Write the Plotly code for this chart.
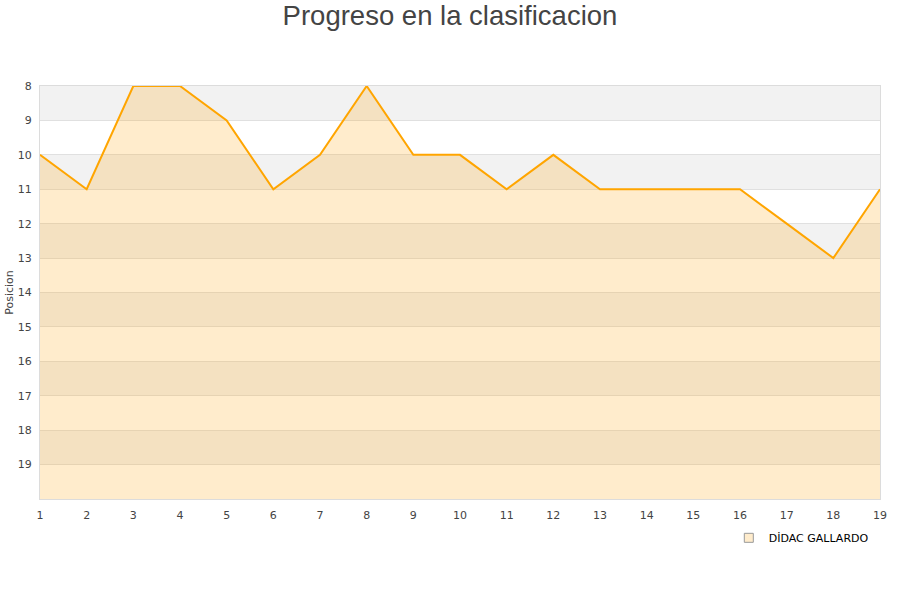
import plotly.graph_objects as go

jornadas = list(range(1, 20))
posiciones = [10, 11, 8, 8, 9, 11, 10, 8, 10, 10, 11, 10, 11, 11, 11, 11, 12, 13, 11]
y_ticks = list(range(8, 20))
y_min, y_max = 8, 20
jugador = "DİDAC GALLARDO"

fig = go.Figure()

# baseline for the fill (bottom of the axis)
fig.add_trace(go.Scatter(x=jornadas, y=[y_max] * len(jornadas), mode="lines",
                         line=dict(width=0), hoverinfo="skip", showlegend=False))
fig.add_trace(go.Scatter(x=jornadas, y=posiciones, mode="lines", fill="tonexty",
                         fillcolor="rgba(255,160,0,0.2)",
                         line=dict(color="#ffa500", width=2), showlegend=False))
# legend entry
fig.add_trace(go.Scatter(x=[None], y=[None], mode="markers", name=jugador,
                         marker=dict(symbol="square", size=9, color="rgba(255,160,0,0.2)",
                                     line=dict(color="#999", width=1))))

shapes = []
for v in range(y_min, y_max, 2):
    shapes.append(dict(type="rect", xref="paper", yref="y", x0=0, x1=1, y0=v, y1=v + 1,
                       fillcolor="#f2f2f2", line=dict(width=0), layer="below"))

fig.update_layout(
    width=900, height=600,
    paper_bgcolor="white", plot_bgcolor="white",
    margin=dict(l=40, r=20, t=86, b=101, autoexpand=False),
    title=dict(text="Progreso en la clasificacion", x=0.5, xanchor="center",
               y=0.975, yanchor="middle",
               font=dict(family="Liberation Sans, Arial", size=27.5, color="#444")),
    font=dict(family="DejaVu Sans", size=11, color="#444"),
    shapes=shapes,
    legend=dict(orientation="h", x=0.82, y=-0.094, xanchor="left", yanchor="middle",
                font=dict(family="DejaVu Sans", size=11, color="#000")),
    xaxis=dict(range=[1, 19], tickvals=jornadas, showgrid=False, zeroline=False,
               showline=True, mirror=True, linecolor="#dcdcdc", ticks="",
               ticklabelstandoff=6,
               automargin=False, tickfont=dict(size=11, color="#444")),
    yaxis=dict(range=[y_max, y_min], tickvals=y_ticks, showgrid=True, gridcolor="#e0e0e0",
               zeroline=False, showline=True, mirror=True, linecolor="#dcdcdc", ticks="",
               ticklabelstandoff=5,
               automargin=False,
               title=dict(text="Posicion", font=dict(size=11, color="#444"), standoff=1),
               tickfont=dict(size=11, color="#444")),
)

fig.write_html("out.html", config={"displayModeBar": False},
               post_script="document.body.style.margin='0';document.body.style.padding='0';")
